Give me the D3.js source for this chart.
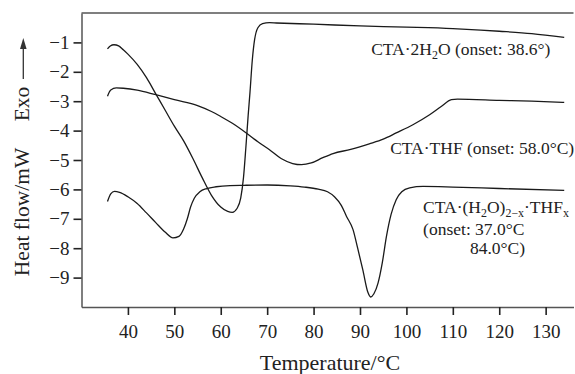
<!DOCTYPE html>
<html><head><meta charset="utf-8">
<script src="https://cdn.jsdelivr.net/npm/d3@7"></script>
<style>
body{margin:0;background:#fff;}
text{font-family:"Liberation Serif","Times New Roman",serif;fill:#222;}
</style></head>
<body><svg id="c" width="575" height="374"></svg>
<script>
// Series: CTA·2H2O
const temp1 = [35.6,36.2,37,38,39,40,42,44,46,48,50,52,54,56,58,60,61.5,62.5,63.5,64.3,64.9,65.4,65.9,66.3,66.8,67.3,68,69,70.5,72,80,90,100,110,116,120,127,134];
const hf1   = [-1.22,-1.12,-1.08,-1.12,-1.25,-1.4,-1.75,-2.2,-2.75,-3.3,-3.85,-4.35,-4.95,-5.6,-6.2,-6.6,-6.75,-6.78,-6.65,-6.3,-5.6,-4.6,-3.5,-2.7,-1.6,-0.9,-0.5,-0.36,-0.33,-0.34,-0.38,-0.44,-0.48,-0.53,-0.58,-0.62,-0.7,-0.83];
// Series: CTA·THF
const temp2 = [35.6,36.3,37.5,39,42,46,50,55,58,60,62.5,65.5,68,70.5,73,75.5,77.4,79.5,82,84.2,88,92,95,97.8,101.4,105,107.5,109.7,111,120,127,134];
const hf2   = [-2.83,-2.62,-2.55,-2.56,-2.62,-2.78,-2.95,-3.15,-3.35,-3.52,-3.75,-4.08,-4.38,-4.65,-4.95,-5.12,-5.16,-5.1,-4.92,-4.78,-4.64,-4.45,-4.29,-4.08,-3.8,-3.46,-3.18,-2.95,-2.93,-2.97,-3.0,-3.04];
// Series: CTA·(H2O)2-x·THFx
const temp3 = [35.6,36.3,37.1,38.2,40,42,44,46,48,49.7,51,52,52.8,53.5,54.3,55.5,57,59,62,65,70,75,78,81,83,84.5,86,87.1,88.5,89.5,90.6,91.7,92.3,93,93.9,94.8,95.7,96.7,97.8,99,100.7,103.6,110,120,134];
const hf3   = [-6.41,-6.15,-6.07,-6.1,-6.25,-6.48,-6.8,-7.13,-7.45,-7.65,-7.6,-7.35,-7.0,-6.6,-6.3,-6.08,-5.97,-5.91,-5.87,-5.86,-5.85,-5.88,-5.92,-5.99,-6.08,-6.25,-6.55,-6.92,-7.37,-8.0,-8.73,-9.5,-9.66,-9.55,-9.18,-8.5,-7.6,-6.85,-6.35,-6.08,-5.95,-5.9,-5.92,-5.97,-6.03];

const xTicks = [40,50,60,70,80,90,100,110,120,130];
const yTicks = [-1,-2,-3,-4,-5,-6,-7,-8,-9];
const xDomain = [30,136];
const yDomain = [-10,0];

const svg = d3.select("#c");
const L=81.5, R=573.5, T=13, B=307;
const x = d3.scaleLinear().domain(xDomain).range([L,R]);
const y = d3.scaleLinear().domain(yDomain).range([B,T]);

svg.append("line").attr("x1",L).attr("x2",R).attr("y1",T).attr("y2",T).attr("stroke","#555").attr("stroke-width",1.5);

const xAxis = svg.append("g").attr("transform",`translate(0,${B})`)
  .call(d3.axisBottom(x).tickValues(xTicks).tickSize(8).tickPadding(10).tickSizeOuter(0));
const yAxis = svg.append("g").attr("transform",`translate(${L},0)`)
  .call(d3.axisLeft(y).tickValues(yTicks).tickSize(8).tickPadding(4).tickSizeOuter(0)
    .tickFormat(d=>"\u2212"+Math.abs(d)));
[xAxis,yAxis].forEach(g=>{
  g.select(".domain").attr("stroke","#555").attr("stroke-width",1.5);
  g.selectAll(".tick line").attr("stroke","#222").attr("stroke-width",1.6);
  g.selectAll(".tick text").attr("font-family","Liberation Serif").attr("font-size",19).attr("fill","#222");
});

const line = d3.line().x(d=>x(d[0])).y(d=>y(d[1])).curve(d3.curveMonotoneX);
[[temp1,hf1],[temp2,hf2],[temp3,hf3]].forEach(([t,h])=>{
  svg.append("path").datum(t.map((v,i)=>[v,h[i]]))
    .attr("d",line).attr("fill","none").attr("stroke","#1a1a1a").attr("stroke-width",1.3);
});

svg.append("text").attr("x",330).attr("y",370).attr("text-anchor","middle").attr("font-size",22).text("Temperature/°C");
svg.append("text").attr("transform","translate(29,212) rotate(-90)").attr("text-anchor","middle").attr("font-size",21.5).text("Heat flow/mW");
svg.append("text").attr("transform","translate(29,104) rotate(-90)").attr("text-anchor","middle").attr("font-size",21.5).text("Exo");
svg.append("line").attr("x1",23.3).attr("x2",23.3).attr("y1",79).attr("y2",48).attr("stroke","#333").attr("stroke-width",1.3);
svg.append("path").attr("d","M23.3,38 L20,49 L26.6,49 Z").attr("fill","#333");

const fs = 17.5;
function sub(t,s){ t.append("tspan").attr("font-size",fs*0.68).attr("dy",4).text(s); }
let t1 = svg.append("text").attr("x",x(92.4)).attr("y",y(-1.43)).attr("font-size",fs);
t1.append("tspan").text("CTA·2H"); sub(t1,"2"); t1.append("tspan").attr("dy",-4).text("O (onset: 38.6°)");

svg.append("text").attr("x",x(96.5)).attr("y",y(-4.8)).attr("font-size",fs).text("CTA·THF (onset: 58.0°C)");

let t3 = svg.append("text").attr("x",x(103.6)).attr("y",y(-6.8)).attr("font-size",fs);
t3.append("tspan").text("CTA·(H"); sub(t3,"2"); t3.append("tspan").attr("dy",-4).text("O)");
sub(t3,"2\u2212x"); t3.append("tspan").attr("dy",-4).text("·THF"); sub(t3,"x");
svg.append("text").attr("x",x(103.6)).attr("y",y(-7.55)).attr("font-size",fs).text("(onset: 37.0°C");
svg.append("text").attr("x",x(113.7)).attr("y",y(-8.2)).attr("font-size",fs).text("84.0°C)");
</script></body></html>
